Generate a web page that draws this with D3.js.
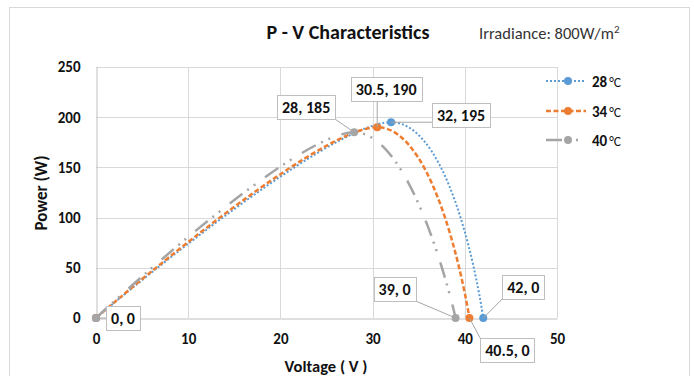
<!DOCTYPE html>
<html>
<head>
<meta charset="utf-8">
<script src="https://cdn.jsdelivr.net/npm/d3@7"></script>
<style>
  html, body { margin: 0; padding: 0; background: #fff; }
  svg { display: block; }
</style>
</head>
<body>
<script>
// ---------- data ----------
const seriesNames = ["28", "34", "40"];
const voltage28 = [0, 32, 42];
const power28 = [0, 195, 0];
const voltage34 = [0, 30.5, 40.5];
const power34 = [0, 190, 0];
const voltage40 = [0, 28, 39];
const power40 = [0, 185, 0];
const xTicks = [0, 10, 20, 30, 40, 50];
const yTicks = [0, 50, 100, 150, 200, 250];
const chartTitle = "P - V Characteristics";
const xTitle = "Voltage ( V )";
const yTitle = "Power (W)";

// ---------- styles ----------
const W = 694, H = 376;
const font = "Carlito, Calibri, Lato, 'Open Sans', sans-serif";
const colors = ["#5B9BD5", "#ED7D31", "#A5A5A5"];
const dashes = ["2 2", "5 2.5", "16 6 2 6 2 12"];
const widths = [2, 2.5, 2.5];

const series = [
  { name: seriesNames[0], xs: voltage28, ys: power28 },
  { name: seriesNames[1], xs: voltage34, ys: power34 },
  { name: seriesNames[2], xs: voltage40, ys: power40 }
];

// label placement: [seriesIndex, pointIndex, dx, dy] offsets of box centre from the point
const labelPlacement = [
  [2, 0, 27, 0],
  [2, 1, -48, -25],
  [1, 1, 9, -38],
  [0, 1, 70, -7],
  [2, 2, -61, -29],
  [0, 2, 40, -31],
  [1, 2, 38, 32]
];

const svg = d3.select("body").append("svg").attr("width", W).attr("height", H);

// chart border
svg.append("rect").attr("x", 9.5).attr("y", 7.5).attr("width", 680).attr("height", 400)
  .attr("fill", "#fff").attr("stroke", "#d9d9d9").attr("stroke-width", 1);

const x = d3.scaleLinear().domain([0, 50]).range([96, 557]);
const y = d3.scaleLinear().domain([0, 250]).range([318, 67]);

// gridlines
const grid = svg.append("g");
grid.selectAll("line.h").data(yTicks.filter(d => d > 0)).join("line")
  .attr("x1", x(0)).attr("x2", x(50))
  .attr("y1", d => Math.round(y(d)) + 0.5).attr("y2", d => Math.round(y(d)) + 0.5)
  .attr("stroke", "#d9d9d9").attr("stroke-width", 1);
grid.selectAll("line.v").data(xTicks.filter(d => d > 0)).join("line")
  .attr("y1", y(0)).attr("y2", y(250))
  .attr("x1", d => Math.round(x(d)) + 0.5).attr("x2", d => Math.round(x(d)) + 0.5)
  .attr("stroke", "#d9d9d9").attr("stroke-width", 1);

// axes
const xAxis = svg.append("g").attr("transform", `translate(0,${Math.round(y(0)) + 0.5})`)
  .call(d3.axisBottom(x).tickValues(xTicks).tickSize(0).tickPadding(15));
const yAxis = svg.append("g").attr("transform", `translate(${Math.round(x(0)) + 0.5},0)`)
  .call(d3.axisLeft(y).tickValues(yTicks).tickSize(0).tickPadding(16));
[xAxis, yAxis].forEach(a => {
  a.select(".domain").attr("stroke", "#bfbfbf").attr("stroke-width", 1);
  a.selectAll("text").attr("font-family", font).attr("font-size", 15)
    .attr("font-weight", "bold").attr("fill", "#111");
});

// lines
const line = d3.line().x(d => x(d[0])).y(d => y(d[1])).curve(d3.curveCardinal.tension(0));
series.forEach((s, i) => {
  const pts = s.xs.map((v, j) => [v, s.ys[j]]);
  svg.append("path").datum(pts).attr("d", line)
    .attr("fill", "none").attr("stroke", colors[i]).attr("stroke-width", widths[i])
    .attr("stroke-dasharray", dashes[i]);
});
series.forEach((s, i) => {
  const pts = s.xs.map((v, j) => [v, s.ys[j]]);
  svg.append("g").selectAll("circle").data(pts).join("circle")
    .attr("cx", d => x(d[0])).attr("cy", d => y(d[1])).attr("r", 4)
    .attr("fill", colors[i]);
});

// data labels
const labels = svg.append("g");
labelPlacement.forEach(([si, pi, dx, dy]) => {
  const s = series[si];
  const px = x(s.xs[pi]), py = y(s.ys[pi]);
  const cx = px + dx, cy = py + dy;
  const g = labels.append("g");
  const t = g.append("text").attr("x", cx).attr("y", cy).attr("dy", "0.35em")
    .attr("text-anchor", "middle").attr("font-family", font).attr("font-size", 16)
    .attr("font-weight", "bold").attr("fill", "#111")
    .text(`${s.xs[pi]}, ${s.ys[pi]}`);
  const bb = t.node().getBBox();
  const bw = bb.width + 10, bh = 24;
  const bx = cx - bw / 2, by = cy - bh / 2;
  // leader line: point to nearest point of the box
  const nx = Math.max(bx, Math.min(px, bx + bw));
  const ny = Math.max(by, Math.min(py, by + bh));
  g.insert("line", "text").attr("x1", px).attr("y1", py).attr("x2", nx).attr("y2", ny)
    .attr("stroke", "#a6a6a6").attr("stroke-width", 1);
  g.insert("rect", "text").attr("x", Math.round(bx) + 0.5).attr("y", Math.round(by) + 0.5)
    .attr("width", Math.round(bw)).attr("height", bh)
    .attr("fill", "#fff").attr("stroke", "#bfbfbf").attr("stroke-width", 1);
});

// titles
svg.append("text").attr("x", 348).attr("y", 39).attr("text-anchor", "middle")
  .attr("font-family", font).attr("font-size", 20).attr("font-weight", "bold")
  .attr("fill", "#111").text(chartTitle);
const irr = svg.append("text").attr("x", 479).attr("y", 39)
  .attr("font-family", font).attr("font-size", 16.5).attr("fill", "#333");
irr.append("tspan").text("Irradiance: 800W/m");
irr.append("tspan").attr("font-size", 11).attr("dy", -6).text("2");

svg.append("text").attr("x", 326).attr("y", 372).attr("text-anchor", "middle")
  .attr("font-family", font).attr("font-size", 16.5).attr("font-weight", "bold")
  .attr("fill", "#111").text(xTitle);
svg.append("text").attr("transform", "translate(47,193) rotate(-90)")
  .attr("text-anchor", "middle").attr("font-family", font).attr("font-size", 17)
  .attr("font-weight", "bold").attr("fill", "#111").text(yTitle);

// legend
const legendY = [81, 111, 140];
series.forEach((s, i) => {
  const g = svg.append("g");
  g.append("line").attr("x1", 546).attr("x2", 586).attr("y1", legendY[i]).attr("y2", legendY[i])
    .attr("stroke", colors[i]).attr("stroke-width", widths[i]).attr("stroke-dasharray", dashes[i]);
  g.append("circle").attr("cx", 568).attr("cy", legendY[i]).attr("r", 4).attr("fill", colors[i]);
  const t = g.append("text").attr("x", 592).attr("y", legendY[i]).attr("dy", "0.35em")
    .attr("font-family", font).attr("fill", "#111");
  t.append("tspan").attr("font-size", 15).attr("font-weight", "bold").text(s.name);
  t.append("tspan").attr("font-size", 13.5).attr("dx", 2).text("°C");
});
</script>
</body>
</html>
